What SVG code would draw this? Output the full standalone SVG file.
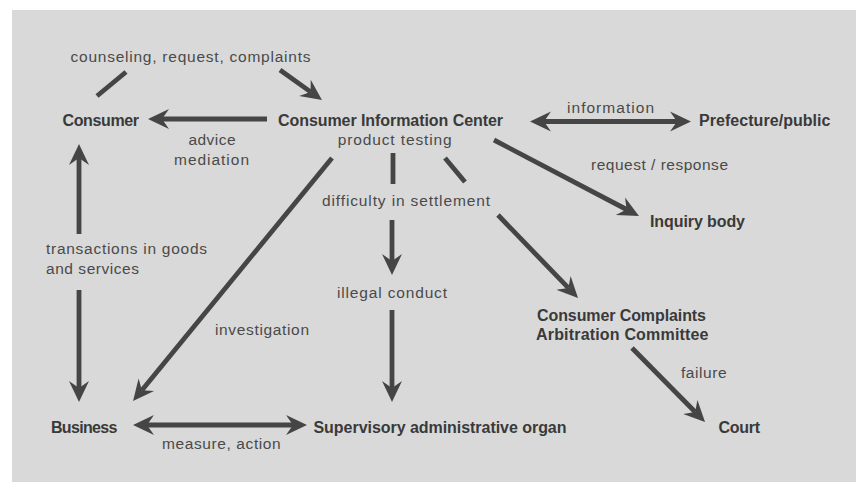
<svg xmlns="http://www.w3.org/2000/svg" width="862" height="489" viewBox="0 0 862 489">
  <style>
    .node { font-family: "Liberation Sans", Arial, sans-serif; font-weight: bold; font-size: 16px; fill: #3a3a3a; }
    .lbl { font-family: "Liberation Sans", Arial, sans-serif; font-size: 15.5px; fill: #4a4a4a; }
    .edge { stroke: #454545; stroke-width: 4.8; fill: none; }
    .arr { marker-end: url(#ah); }
    .dbl { marker-start: url(#ah); marker-end: url(#ah); }
  </style>
  <defs>
    <marker id="ah" markerUnits="userSpaceOnUse" markerWidth="24" markerHeight="24" viewBox="0 -11 24 22" refX="7" refY="0" orient="auto-start-reverse">
      <path d="M0,-10 L21,0 L0,10 L7,0 Z" fill="#454545"/>
    </marker>
  </defs>
  <rect x="0" y="0" width="862" height="489" fill="#ffffff"/>
  <rect x="12" y="10" width="844" height="472" fill="#d9d9d9"/>

  <g id="connectors">
    <line class="edge" x1="97" y1="96" x2="126" y2="72"/>
    <line class="edge arr" x1="280" y1="70" x2="310.6" y2="91.9"/>
    <line class="edge arr" x1="267" y1="119" x2="162" y2="119"/>
    <line class="edge dbl" x1="544" y1="121.5" x2="677" y2="121.5"/>
    <line class="edge arr" x1="494" y1="140" x2="626.6" y2="209.5"/>
    <line class="edge" x1="393" y1="153" x2="393" y2="184"/>
    <line class="edge" x1="445" y1="158" x2="465" y2="182"/>
    <line class="edge arr" x1="332" y1="158" x2="141.9" y2="390.2"/>
    <line class="edge arr" x1="392" y1="220" x2="392" y2="261"/>
    <line class="edge arr" x1="498" y1="215" x2="568.3" y2="287.9"/>
    <line class="edge arr" x1="392" y1="310" x2="392" y2="388"/>
    <line class="edge arr" x1="79" y1="234" x2="79" y2="158"/>
    <line class="edge arr" x1="79" y1="290" x2="79" y2="388"/>
    <line class="edge dbl" x1="147" y1="425" x2="293" y2="425"/>
    <line class="edge arr" x1="632" y1="348" x2="695.2" y2="412"/>
    <text class="lbl" x="70.5" y="62" textLength="240" lengthAdjust="spacing">counseling, request, complaints</text>
    <text class="lbl" x="188.5" y="145" textLength="47" lengthAdjust="spacing">advice</text>
    <text class="lbl" x="174" y="165" textLength="75" lengthAdjust="spacing">mediation</text>
    <text class="lbl" x="567" y="112.5" textLength="87" lengthAdjust="spacing">information</text>
    <text class="lbl" x="591" y="170" textLength="137" lengthAdjust="spacing">request / response</text>
    <text class="lbl" x="46" y="254" textLength="161" lengthAdjust="spacing">transactions in goods</text>
    <text class="lbl" x="46" y="274" textLength="93" lengthAdjust="spacing">and services</text>
    <text class="lbl" x="215" y="335" textLength="94" lengthAdjust="spacing">investigation</text>
    <text class="lbl" x="681" y="378" textLength="45.5" lengthAdjust="spacing">failure</text>
    <text class="lbl" x="162" y="449" textLength="118.7" lengthAdjust="spacing">measure, action</text>
  </g>

  <g id="consumer">
    <text class="node" x="62.5" y="126" textLength="76.5" lengthAdjust="spacing">Consumer</text>
  </g>
  <g id="cic">
    <text class="node" x="278" y="126" textLength="225" lengthAdjust="spacing">Consumer Information Center</text>
    <text class="lbl" x="337.7" y="145" textLength="114" lengthAdjust="spacing">product testing</text>
  </g>
  <g id="prefecture">
    <text class="node" x="699" y="126" textLength="131.5" lengthAdjust="spacing">Prefecture/public</text>
  </g>
  <g id="inquiry">
    <text class="node" x="650" y="226.5" textLength="95" lengthAdjust="spacing">Inquiry body</text>
  </g>
  <g id="difficulty">
    <text class="lbl" x="322" y="206" textLength="168" lengthAdjust="spacing">difficulty in settlement</text>
  </g>
  <g id="illegal">
    <text class="lbl" x="337" y="298" textLength="110" lengthAdjust="spacing">illegal conduct</text>
  </g>
  <g id="ccac">
    <text class="node" x="537" y="321" textLength="169" lengthAdjust="spacing">Consumer Complaints</text>
    <text class="node" x="536" y="340" textLength="172.5" lengthAdjust="spacing">Arbitration Committee</text>
  </g>
  <g id="business">
    <text class="node" x="51" y="433" textLength="66.3" lengthAdjust="spacing">Business</text>
  </g>
  <g id="supervisory">
    <text class="node" x="313.5" y="433" textLength="253" lengthAdjust="spacing">Supervisory administrative organ</text>
  </g>
  <g id="court">
    <text class="node" x="718.5" y="433" textLength="41.5" lengthAdjust="spacing">Court</text>
  </g>
</svg>
